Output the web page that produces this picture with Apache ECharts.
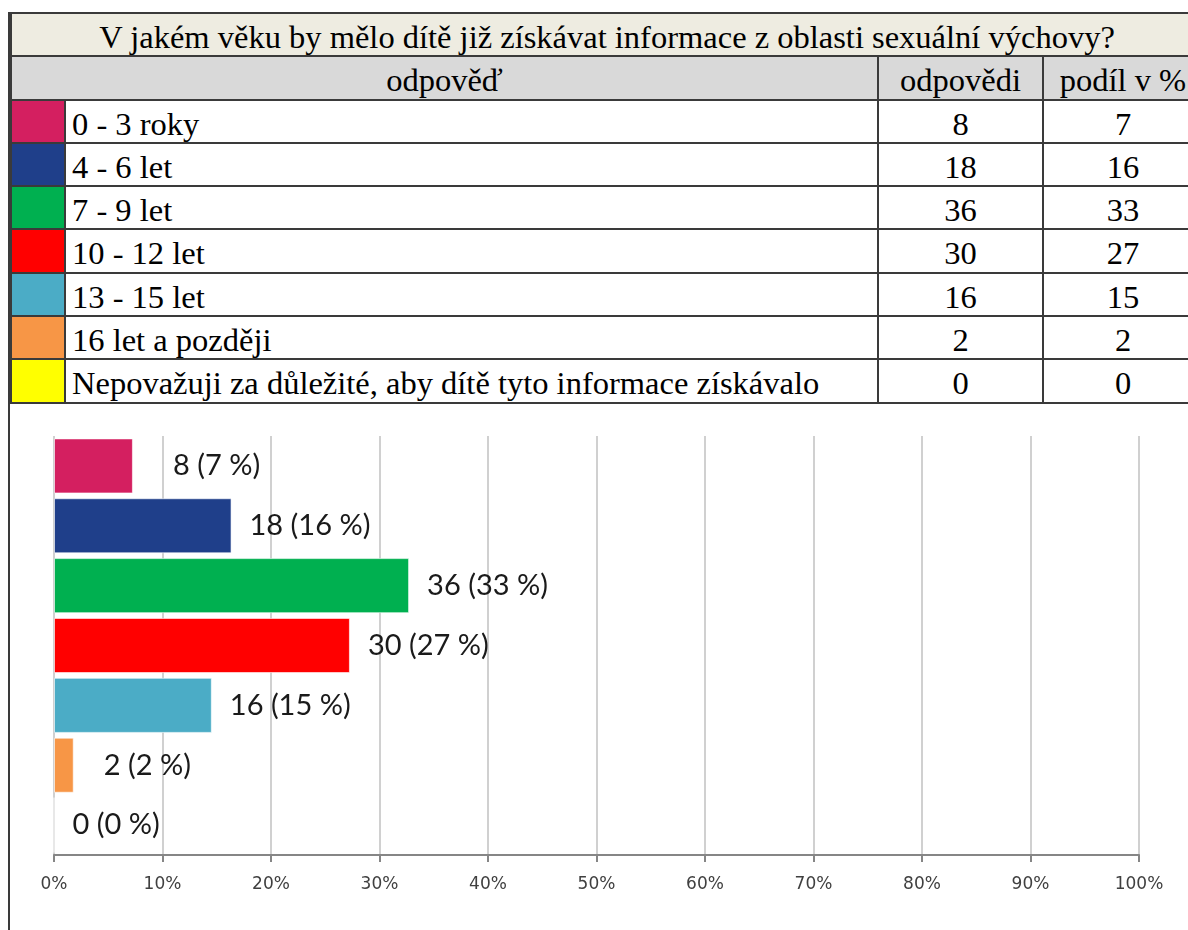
<!DOCTYPE html>
<html>
<head>
<meta charset="utf-8">
<script src="https://cdn.jsdelivr.net/npm/echarts@6/dist/echarts.min.js"></script>
<style>
	html, body { margin: 0; padding: 0; background: #fff; overflow: hidden; width: 1188px; height: 930px; }
	#frame { position: absolute; left: 8px; top: 12px; width: 1192px; height: 940px; border-left: 2px solid #3a3a3a; }
	table { border-collapse: collapse; width: 1192px; font-family: "Liberation Serif", "Times New Roman", serif; font-size: 32.5px; color: #000; table-layout: fixed; }
	td { border: 2px solid #3a3a3a; padding: 0 6px; height: 41.3px; line-height: 36.3px; padding-top: 5px; box-sizing: border-box; white-space: nowrap; overflow: hidden; }
	.title td { background: #eeece1; text-align: center; }
	.head td { background: #d9d9d9; text-align: center; }
	td.num { text-align: center; }
	td.sw { padding: 0; }
	#chart { position: absolute; left: 0; top: 402px; width: 1188px; height: 528px; }
</style>
</head>
<body>
<div id="frame">
	<table id="tbl">
		<colgroup>
			<col style="width:54px"><col style="width:813px"><col style="width:165px"><col style="width:160px">
		</colgroup>
	</table>
</div>
<div id="chart"></div>
<script>
	"use strict";

	// ______________ DATA
	var title = 'V jakém věku by mělo dítě již získávat informace z oblasti sexuální výchovy?';
	var headers = ['odpověď', 'odpovědi', 'podíl v %'];
	var categories = ['0 - 3 roky', '4 - 6 let', '7 - 9 let', '10 - 12 let', '13 - 15 let', '16 let a později', 'Nepovažuji za důležité, aby dítě tyto informace získávalo'];
	var counts = [8, 18, 36, 30, 16, 2, 0];
	var shares = [7, 16, 33, 27, 15, 2, 0];
	var colors = ['#d41f60', '#1f3f8a', '#00b050', '#ff0000', '#4bacc6', '#f79646', '#ffff00'];
	var xTicks = [0, 10, 20, 30, 40, 50, 60, 70, 80, 90, 100];

	var total = counts.reduce(function(a, b) { return a + b; }, 0);

	// ______________ TABLE
	var tbl = document.getElementById('tbl');
	var html = '<tr class="title"><td colspan="4">' + title + '</td></tr>';
	html += '<tr class="head"><td colspan="2">' + headers[0] + '</td><td>' + headers[1] + '</td><td>' + headers[2] + '</td></tr>';
	categories.forEach(function(c, i) {
		html += '<tr><td class="sw" style="background:' + colors[i] + '"></td><td>' + c + '</td>' +
			'<td class="num">' + counts[i] + '</td><td class="num">' + shares[i] + '</td></tr>';
	});
	tbl.insertAdjacentHTML('beforeend', html);

	// ______________ CHART
	// short bars get their label pushed a bit further out (like the original)
	var labelGap = { 0: 40, 5: 30 };

	var chart = echarts.init(document.getElementById('chart'), null, { renderer: 'canvas' });
	chart.setOption({
		animation: false,
		grid: { left: 54, right: 49, top: 34, bottom: 75 },
		xAxis: {
			type: 'value',
			min: xTicks[0],
			max: xTicks[xTicks.length - 1],
			interval: 10,
			axisLine: { show: true, lineStyle: { color: '#868686', width: 2 } },
			axisTick: { show: true, length: 7, lineStyle: { color: '#868686', width: 2 } },
			axisLabel: { formatter: '{value}%', margin: 21, fontFamily: 'DejaVu Sans', fontSize: 17, color: '#404040' },
			splitLine: { show: true, lineStyle: { color: '#d0d0d0', width: 2 } }
		},
		yAxis: {
			type: 'category',
			inverse: true,
			data: categories,
			axisLine: { show: false },
			axisTick: { show: false },
			axisLabel: { show: false }
		},
		series: [{
			type: 'bar',
			barCategoryGap: '8%',
			data: counts.map(function(v, i) {
				var item = { value: v / total * 100, itemStyle: { color: colors[i] } };
				if (labelGap[i]) item.label = { distance: labelGap[i] };
				return item;
			}),
			itemStyle: { borderColor: 'rgba(255,255,255,0.6)', borderWidth: 1 },
			label: {
				show: true,
				position: 'right',
				distance: 18,
				fontFamily: 'Lato',
				fontSize: 29,
				color: '#1a1a1a',
				formatter: function(p) {
					return counts[p.dataIndex] + ' (' + shares[p.dataIndex] + ' %)';
				}
			}
		}]
	});
</script>
</body>
</html>
